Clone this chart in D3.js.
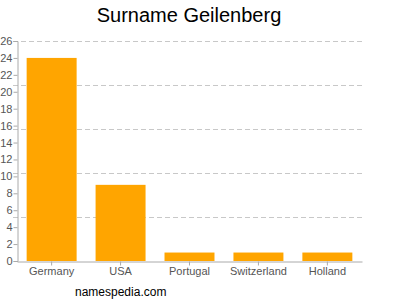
<!DOCTYPE html>
<html lang="en">
<head>
    <meta charset="UTF-8">
    <title>Surname Geilenberg</title>
    <script src="https://cdn.jsdelivr.net/npm/d3@7"></script>
    <style>
        body { margin: 0; background: #fff; }
        text { font-family: "Liberation Sans", Arial, sans-serif; }
    </style>
</head>
<body>
<script>
    // data
    var countries = ["Germany", "USA", "Portugal", "Switzerland", "Holland"];
    var counts = [24, 9, 1, 1, 1];
    var yTicks = [0, 2, 4, 6, 8, 10, 12, 14, 16, 18, 20, 22, 24, 26];
    var gridValues = [5.2, 10.4, 15.6, 20.8, 26];

    var width = 400, height = 300;
    // plot area (note: "top" is taken by window.top, so use other names)
    var plotLeft = 17, plotRight = 362, plotTop = 41, plotBottom = 261;

    var svg = d3.select("body").append("svg")
        .attr("width", width)
        .attr("height", height);

    var x = d3.scaleBand()
        .domain(countries)
        .range([plotLeft, plotRight])
        .paddingInner(0.275)
        .paddingOuter(0.14);

    var y = d3.scaleLinear()
        .domain([0, 26])
        .range([plotBottom, plotTop]);

    // title
    svg.append("text")
        .attr("x", 189)
        .attr("y", 22)
        .attr("text-anchor", "middle")
        .attr("font-size", 20)
        .attr("fill", "#000")
        .text("Surname Geilenberg");

    // dashed grid
    svg.selectAll("line.grid")
        .data(gridValues)
        .enter()
        .append("line")
        .attr("class", "grid")
        .attr("x1", plotLeft - 4)
        .attr("x2", plotRight)
        .attr("y1", function (d) { return Math.round(y(d)) + 0.5; })
        .attr("y2", function (d) { return Math.round(y(d)) + 0.5; })
        .attr("stroke", "#c8c8c8")
        .attr("stroke-dasharray", "5,3");

    // bars
    svg.selectAll("rect")
        .data(counts)
        .enter()
        .append("rect")
        .attr("x", function (d, i) { return x(countries[i]); })
        .attr("y", function (d) { return y(d); })
        .attr("width", x.bandwidth())
        .attr("height", function (d) { return plotBottom - y(d); })
        .attr("fill", "#ffa500");

    // y axis
    var yAxis = svg.append("g")
        .attr("transform", "translate(" + (plotLeft + 0.5) + ",0)")
        .call(d3.axisLeft(y).tickValues(yTicks).tickSize(4).tickPadding(1));

    // x axis
    var xAxis = svg.append("g")
        .attr("transform", "translate(0," + (plotBottom + 0.5) + ")")
        .call(d3.axisBottom(x).tickSize(4).tickPadding(2).tickSizeOuter(0));

    [yAxis, xAxis].forEach(function (g) {
        g.select(".domain").attr("stroke", "#aaa");
        g.selectAll(".tick line").attr("stroke", "#aaa");
        g.selectAll(".tick text")
            .attr("fill", "#555")
            .attr("font-size", 11)
            .attr("font-family", "Liberation Sans, Arial, sans-serif");
    });

    // watermark
    svg.append("text")
        .attr("x", 75)
        .attr("y", 296)
        .attr("font-size", 12)
        .attr("fill", "#000")
        .text("namespedia.com");
</script>
</body>
</html>
